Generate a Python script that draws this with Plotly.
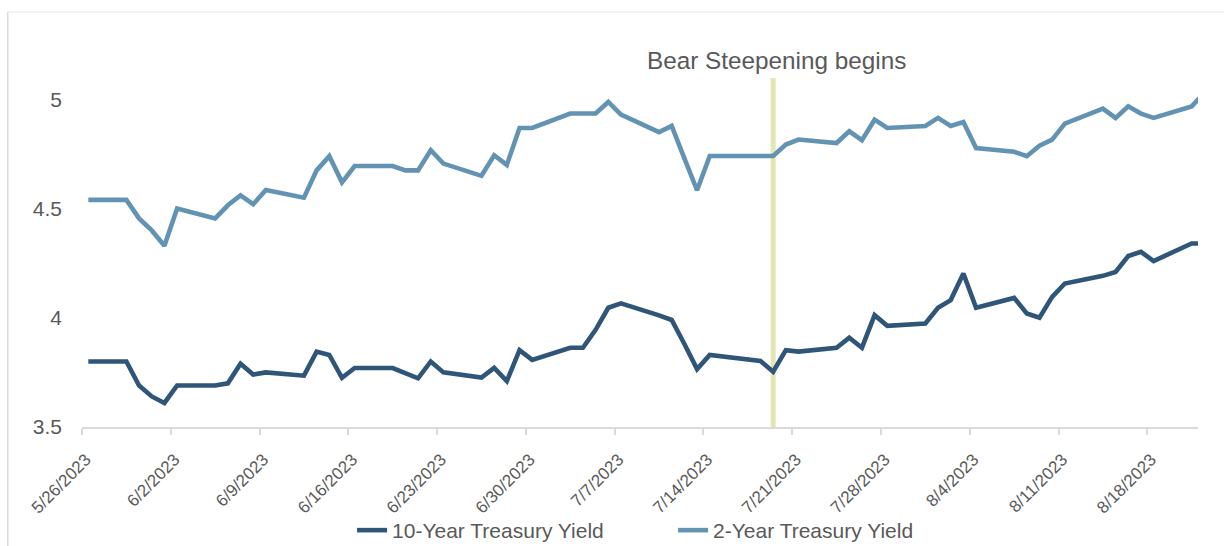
import pandas as pd
import plotly.graph_objects as go

# ---- data ----
dates = [
    "2023-05-26", "2023-05-29", "2023-05-30", "2023-05-31", "2023-06-01", "2023-06-02",
    "2023-06-05", "2023-06-06", "2023-06-07", "2023-06-08", "2023-06-09",
    "2023-06-12", "2023-06-13", "2023-06-14", "2023-06-15", "2023-06-16",
    "2023-06-19", "2023-06-20", "2023-06-21", "2023-06-22", "2023-06-23",
    "2023-06-26", "2023-06-27", "2023-06-28", "2023-06-29", "2023-06-30",
    "2023-07-03", "2023-07-04", "2023-07-05", "2023-07-06", "2023-07-07",
    "2023-07-10", "2023-07-11", "2023-07-12", "2023-07-13", "2023-07-14",
    "2023-07-17", "2023-07-18", "2023-07-19", "2023-07-20", "2023-07-21",
    "2023-07-24", "2023-07-25", "2023-07-26", "2023-07-27", "2023-07-28",
    "2023-07-31", "2023-08-01", "2023-08-02", "2023-08-03", "2023-08-04",
    "2023-08-07", "2023-08-08", "2023-08-09", "2023-08-10", "2023-08-11",
    "2023-08-14", "2023-08-15", "2023-08-16", "2023-08-17", "2023-08-18",
    "2023-08-21", "2023-08-22",
]
ten_year = [
    3.80, 3.80, 3.69, 3.64, 3.61, 3.69,
    3.69, 3.70, 3.79, 3.74, 3.75,
    3.735, 3.845, 3.83, 3.725, 3.77,
    3.77, 3.745, 3.723, 3.80, 3.75,
    3.726, 3.771, 3.71, 3.852, 3.807,
    3.863, 3.863, 3.945, 4.046, 4.066,
    4.011, 3.99, 3.88, 3.765, 3.83,
    3.81, 3.802, 3.753, 3.852, 3.845,
    3.863, 3.909, 3.863, 4.012, 3.963,
    3.974, 4.046, 4.081, 4.203, 4.046,
    4.091, 4.02, 4.00, 4.096, 4.157,
    4.192, 4.21, 4.283, 4.302, 4.26,
    4.34, 4.34,
]
two_year = [
    4.54, 4.54, 4.455, 4.40, 4.33, 4.50,
    4.455, 4.515, 4.56, 4.52, 4.585,
    4.55, 4.675, 4.74, 4.62, 4.695,
    4.695, 4.675, 4.675, 4.767, 4.706,
    4.65, 4.744, 4.70, 4.869, 4.869,
    4.935, 4.935, 4.935, 4.988, 4.93,
    4.85, 4.878, 4.73, 4.584, 4.741,
    4.741, 4.741, 4.741, 4.793, 4.816,
    4.80, 4.854, 4.813, 4.907, 4.869,
    4.878, 4.915, 4.878, 4.896, 4.777,
    4.76, 4.74, 4.788, 4.816, 4.889,
    4.958, 4.915, 4.968, 4.935, 4.915,
    4.968, 5.03,
]
series_names = ["10-Year Treasury Yield", "2-Year Treasury Yield"]
event_date = "2023-07-19"
event_label = "Bear Steepening begins"
y_ticks = [3.5, 4, 4.5, 5]
x_start, x_end = "2023-05-26", "2023-08-22"

# ---- styling ----
FONT = "Liberation Sans, Arial, sans-serif"
TXT = "#595959"
GRID = "#d9d9d9"
C10 = "#2F5579"
C2 = "#6293B3"

# points sit in the middle of each day (Excel "between tick marks" date axis)
x = pd.to_datetime(pd.Series(dates)) + pd.Timedelta(hours=12)
ev_x = pd.Timestamp(event_date) + pd.Timedelta(hours=12)

fig = go.Figure()
fig.add_trace(go.Scatter(x=x, y=ten_year, mode="lines", name=series_names[0],
                         line=dict(color=C10, width=4.6)))
fig.add_trace(go.Scatter(x=x, y=two_year, mode="lines", name=series_names[1],
                         line=dict(color=C2, width=4.6)))

# vertical event marker
fig.add_shape(type="line", xref="x", yref="paper", x0=ev_x, x1=ev_x, y0=0, y1=0.841,
              line=dict(color="#E2E5B4", width=5), layer="below")
fig.add_annotation(x=ev_x, xref="x", y=0.884, yref="paper", text=event_label,
                   showarrow=False, xanchor="center", yanchor="middle", xshift=3,
                   font=dict(family=FONT, size=24.3, color=TXT))

# chart-area border pieces (visible at top and left of the reference)
fig.add_shape(type="line", xref="paper", yref="paper", x0=-0.0665, x1=1.03, y0=1.0, y1=1.0,
              line=dict(color="#efefef", width=1.5), layer="below")
fig.add_shape(type="line", xref="paper", yref="paper", x0=-0.0665, x1=-0.0665, y0=1.0, y1=-0.3,
              line=dict(color="#d9d9d9", width=1.5), layer="below")

fig.update_layout(
    width=1224, height=546,
    margin=dict(l=82, r=26, t=12, b=119, autoexpand=False),
    plot_bgcolor="white", paper_bgcolor="white",
    font=dict(family=FONT, color=TXT),
    showlegend=True,
    legend=dict(orientation="h", x=0.242, xanchor="left", y=-0.2, yanchor="top",
                font=dict(family=FONT, size=21, color=TXT),
                entrywidth=276, entrywidthmode="pixels",
                bgcolor="rgba(0,0,0,0)"),
)
fig.update_xaxes(
    type="date", range=[x_start, x_end], automargin=False,
    tick0=x_start, dtick=7 * 86400000, tickformat="%-m/%-d/%Y",
    tickangle=-45, tickfont=dict(family=FONT, size=17, color=TXT),
    ticklabelstandoff=8, ticklabelshift=4,
    showgrid=False, zeroline=False,
    showline=True, linecolor=GRID, linewidth=2,
    ticks="outside", ticklen=6, tickcolor=GRID, tickwidth=1.5,
)
fig.update_yaxes(
    range=[3.5, 5.4], tickvals=y_ticks, automargin=False,
    tickfont=dict(family=FONT, size=21, color=TXT),
    showgrid=False, zeroline=False, showline=False,
    ticks="", ticklabelstandoff=19,
)

fig.write_html("out.html")
